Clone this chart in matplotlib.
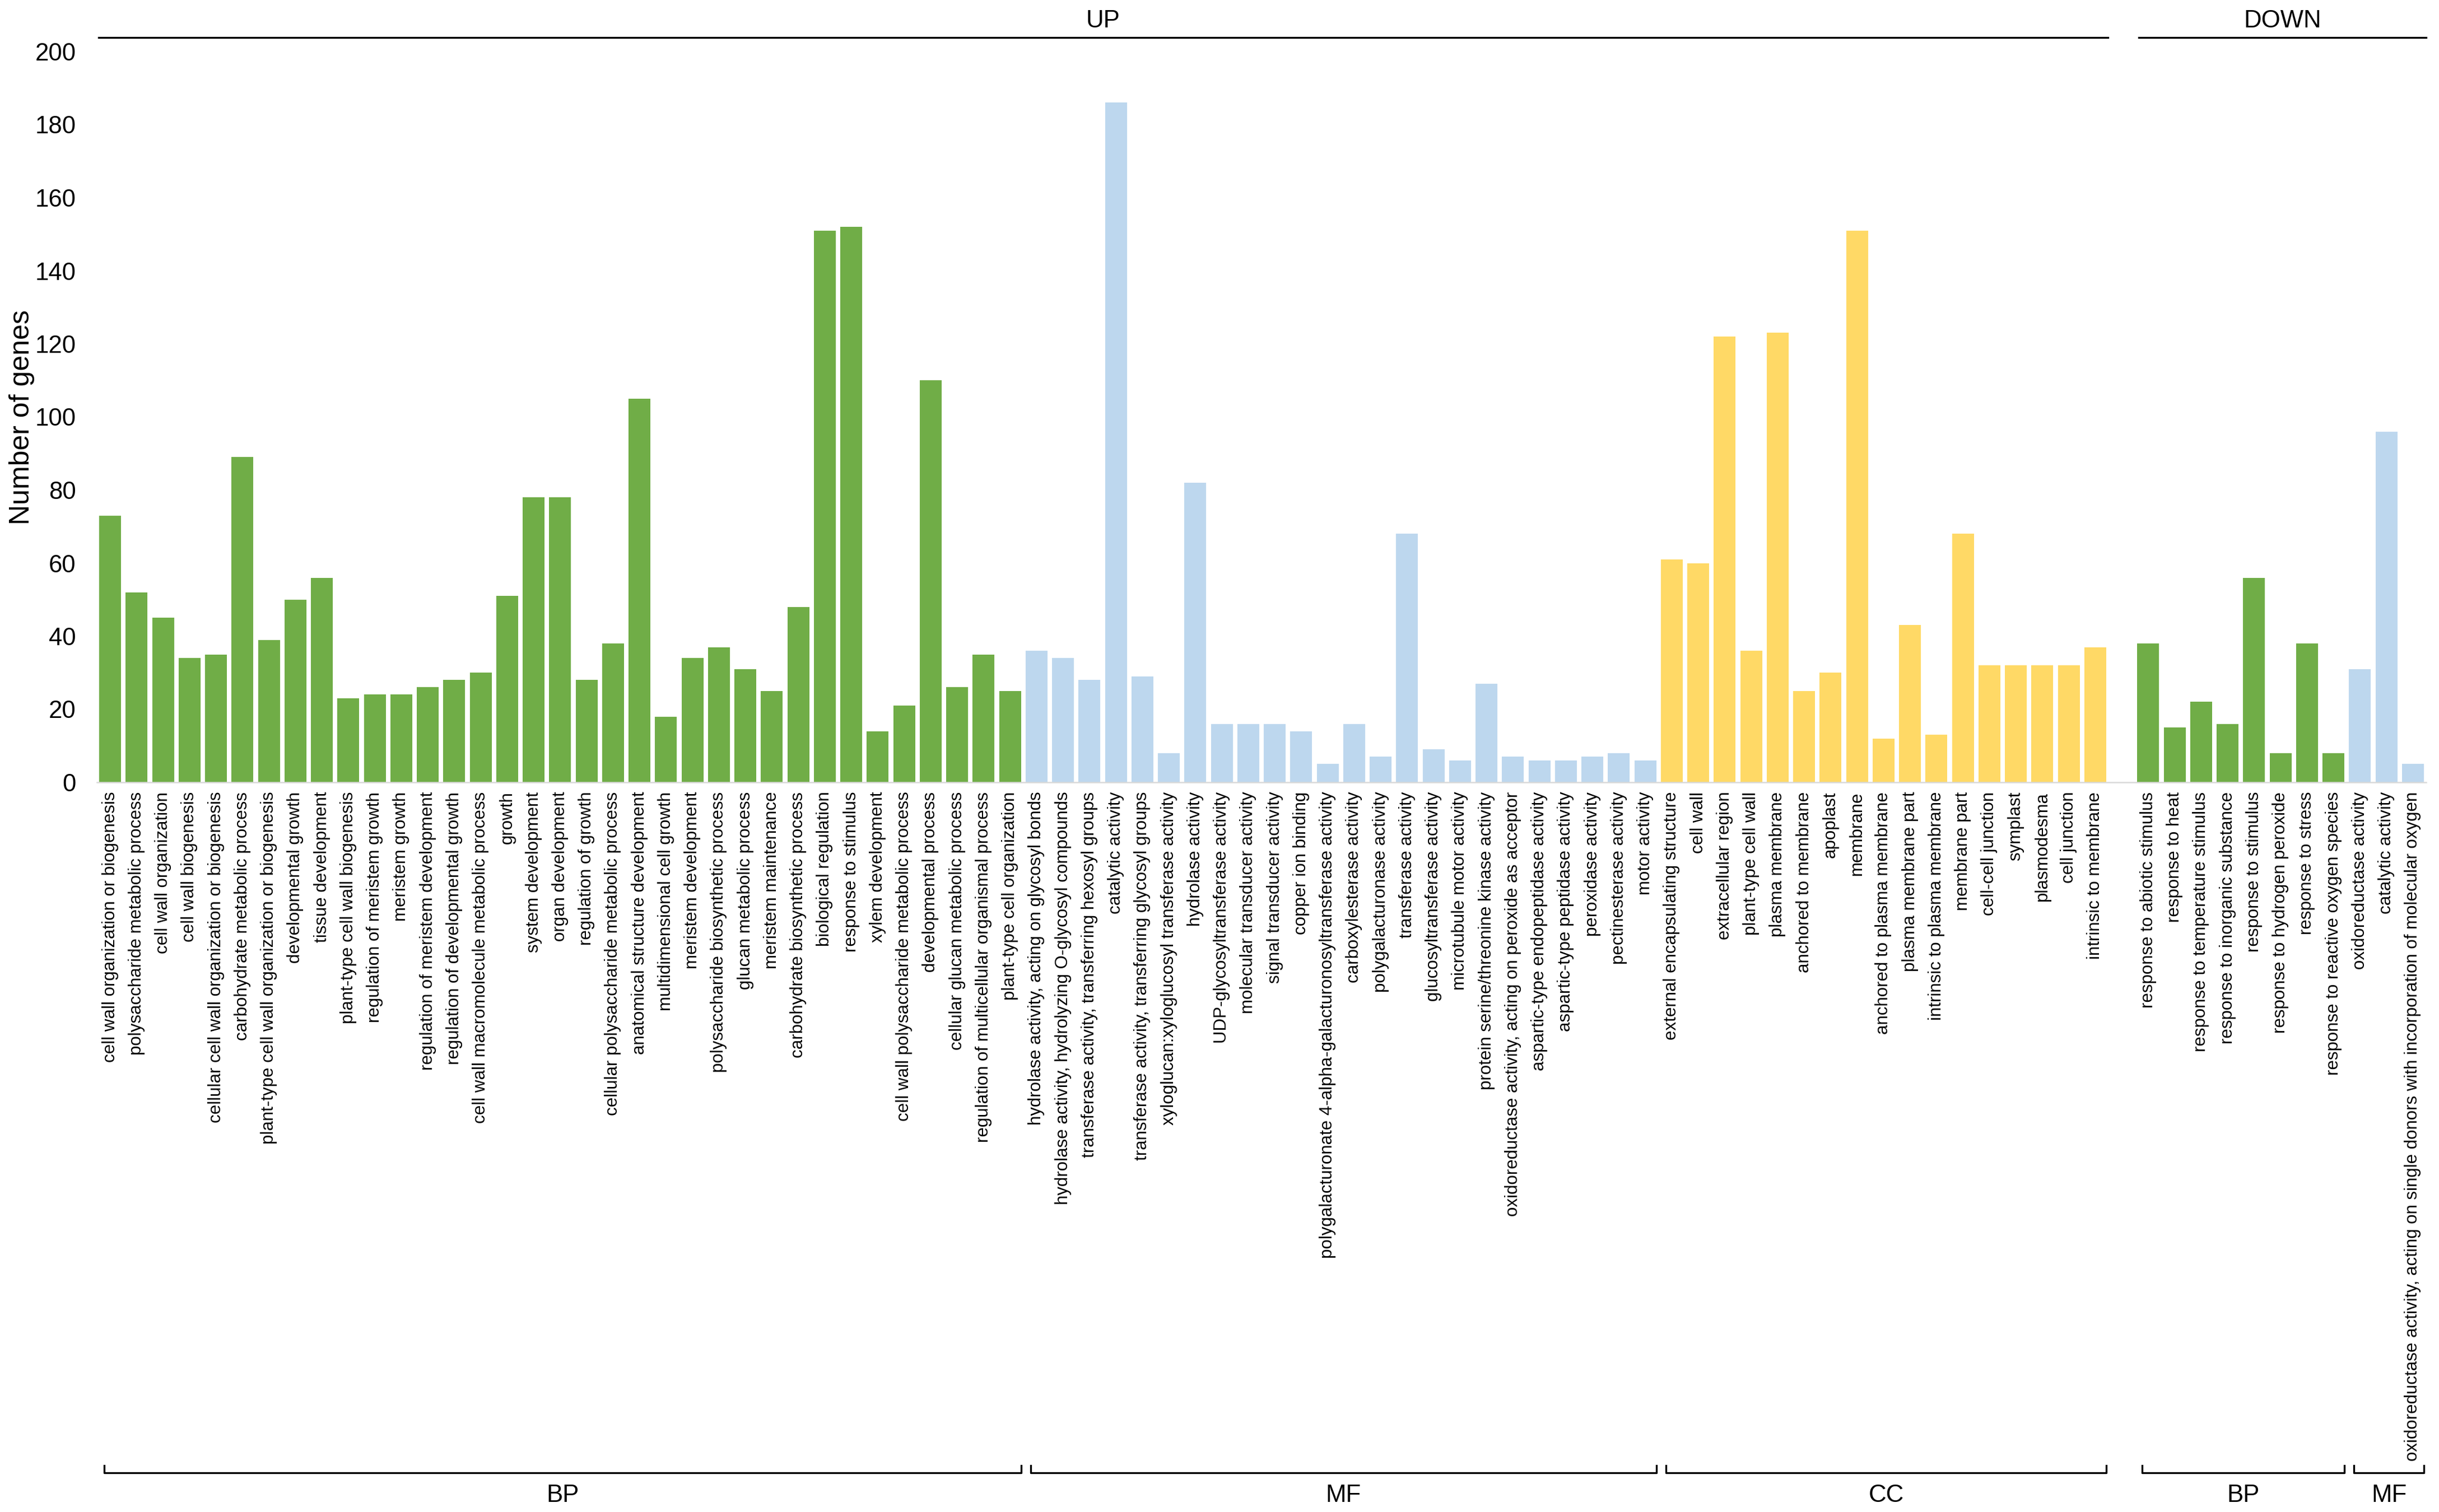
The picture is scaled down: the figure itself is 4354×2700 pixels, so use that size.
import numpy as np
import matplotlib
matplotlib.use('Agg')
import matplotlib.pyplot as plt
import matplotlib.transforms as mtrans

plt.rcParams['font.family'] = ['Liberation Sans', 'DejaVu Sans']

# UP regulated
up_bp_terms = ['cell wall organization or biogenesis', 'polysaccharide metabolic process',
               'cell wall organization', 'cell wall biogenesis',
               'cellular cell wall organization or biogenesis', 'carbohydrate metabolic process',
               'plant-type cell wall organization or biogenesis', 'developmental growth',
               'tissue development', 'plant-type cell wall biogenesis',
               'regulation of meristem growth', 'meristem growth',
               'regulation of meristem development', 'regulation of developmental growth',
               'cell wall macromolecule metabolic process', 'growth', 'system development',
               'organ development', 'regulation of growth',
               'cellular polysaccharide metabolic process', 'anatomical structure development',
               'multidimensional cell growth', 'meristem development',
               'polysaccharide biosynthetic process', 'glucan metabolic process',
               'meristem maintenance', 'carbohydrate biosynthetic process',
               'biological regulation', 'response to stimulus', 'xylem development',
               'cell wall polysaccharide metabolic process', 'developmental process',
               'cellular glucan metabolic process',
               'regulation of multicellular organismal process', 'plant-type cell organization']
up_bp_vals = [73, 52, 45, 34, 35, 89, 39, 50, 56, 23, 24, 24, 26, 28, 30, 51, 78, 78, 28, 38,
              105, 18, 34, 37, 31, 25, 48, 151, 152, 14, 21, 110, 26, 35, 25]

up_mf_terms = ['hydrolase activity, acting on glycosyl bonds',
               'hydrolase activity, hydrolyzing O-glycosyl compounds',
               'transferase activity, transferring hexosyl groups', 'catalytic activity',
               'transferase activity, transferring glycosyl groups',
               'xyloglucan:xyloglucosyl transferase activity', 'hydrolase activity',
               'UDP-glycosyltransferase activity', 'molecular transducer activity',
               'signal transducer activity', 'copper ion binding',
               'polygalacturonate 4-alpha-galacturonosyltransferase activity',
               'carboxylesterase activity', 'polygalacturonase activity', 'transferase activity',
               'glucosyltransferase activity', 'microtubule motor activity',
               'protein serine/threonine kinase activity',
               'oxidoreductase activity, acting on peroxide as acceptor',
               'aspartic-type endopeptidase activity', 'aspartic-type peptidase activity',
               'peroxidase activity', 'pectinesterase activity', 'motor activity']
up_mf_vals = [36, 34, 28, 186, 29, 8, 82, 16, 16, 16, 14, 5, 16, 7, 68, 9, 6, 27, 7, 6, 6, 7, 8, 6]

up_cc_terms = ['external encapsulating structure', 'cell wall', 'extracellular region',
               'plant-type cell wall', 'plasma membrane', 'anchored to membrane', 'apoplast',
               'membrane', 'anchored to plasma membrane', 'plasma membrane part',
               'intrinsic to plasma membrane', 'membrane part', 'cell-cell junction', 'symplast',
               'plasmodesma', 'cell junction', 'intrinsic to membrane']
up_cc_vals = [61, 60, 122, 36, 123, 25, 30, 151, 12, 43, 13, 68, 32, 32, 32, 32, 37]

# DOWN regulated
down_bp_terms = ['response to abiotic stimulus', 'response to heat',
                 'response to temperature stimulus', 'response to inorganic substance',
                 'response to stimulus', 'response to hydrogen peroxide', 'response to stress',
                 'response to reactive oxygen species']
down_bp_vals = [38, 15, 22, 16, 56, 8, 38, 8]

down_mf_terms = ['oxidoreductase activity', 'catalytic activity',
                 'oxidoreductase activity, acting on single donors with incorporation of molecular oxygen']
down_mf_vals = [31, 96, 5]

green = '#70AD47'
blue = '#BDD7EE'
yellow = '#FFD966'

groups = [(up_bp_terms, up_bp_vals, green, 'BP'),
          (up_mf_terms, up_mf_vals, blue, 'MF'),
          (up_cc_terms, up_cc_vals, yellow, 'CC'),
          (None, None, None, None),   # gap between UP and DOWN
          (down_bp_terms, down_bp_vals, green, 'BP'),
          (down_mf_terms, down_mf_vals, blue, 'MF')]

fig = plt.figure(figsize=(4354 / 300, 2700 / 300), dpi=300)
ax = fig.add_axes([173 / 4354, 1 - 1397 / 2700, (4331 - 173) / 4354, (1397 - 92) / 2700])

ticks, ticklabels, spans = [], [], []
pos = 0
for terms, vals, col, name in groups:
    if terms is None:
        pos += 1
        continue
    x = np.arange(pos, pos + len(vals))
    ax.bar(x, vals, width=0.83, color=col, zorder=2)
    ticks += list(x)
    ticklabels += terms
    spans.append((x[0], x[-1], name))
    pos += len(vals)

ax.set_xlim(-0.5, pos - 0.5)
ax.set_ylim(0, 200)
ax.set_yticks(np.arange(0, 201, 20))
ax.set_xticks(ticks)
ax.set_xticklabels(ticklabels, rotation=90, fontsize=7.5, va='top', ha='center')
ax.tick_params(axis='x', length=0, pad=4)
ax.tick_params(axis='y', length=0, pad=9, labelsize=10.5)
for s in ['top', 'right', 'left']:
    ax.spines[s].set_visible(False)
ax.spines['bottom'].set_color('#d9d9d9')
ax.spines['bottom'].set_linewidth(0.6)

fig.text(39 / 4354, 1 - 745 / 2700, 'Number of genes', rotation=90, ha='center', va='center',
         fontsize=12)

tr = mtrans.blended_transform_factory(ax.transData, ax.transAxes)

# top UP / DOWN lines
n_up = len(up_bp_vals) + len(up_mf_vals) + len(up_cc_vals)
for x0, x1, txt in [(-0.44, n_up - 0.52, 'UP'), (n_up + 0.64, pos - 0.5, 'DOWN')]:
    ax.plot([x0, x1], [1.0192, 1.0192], color='black', lw=0.8, transform=tr, clip_on=False)
    ax.text((x0 + x1) / 2, 1.0421, txt, transform=tr, ha='center', va='center', fontsize=10.5)

# bottom brackets
for a, b, name in spans:
    x0, x1 = a - 0.22, min(b + 0.42, pos - 0.5)
    ax.plot([x0, x0, x1, x1], [-0.9349, -0.9448, -0.9448, -0.9349], color='black', lw=0.8,
            transform=tr, clip_on=False)
    ax.text((x0 + x1) / 2, -0.9755, name, transform=tr, ha='center', va='center', fontsize=10.5)

fig.savefig('out.png', dpi=300)
